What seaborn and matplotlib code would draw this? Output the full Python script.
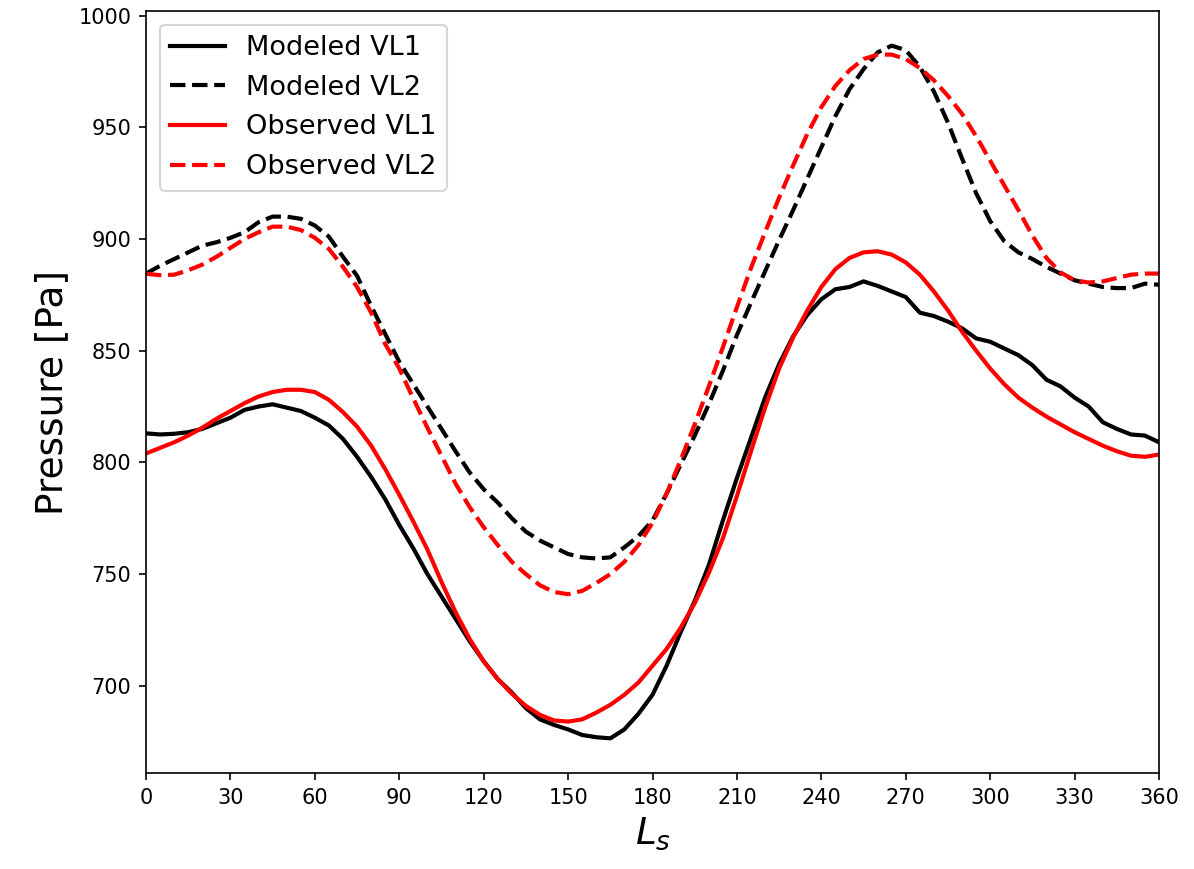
import numpy as np
import pandas as pd
import matplotlib
matplotlib.use("Agg")
import matplotlib.pyplot as plt
import seaborn as sns

# Solar longitude grid (deg)
ls = list(range(0, 361, 5))

# Modeled VL1 (black solid)
p_mod_vl1 = [813.0, 812.5, 812.8, 813.5, 815.0, 817.5, 820.0, 823.5, 825.0, 826.0,
             824.5, 823.0, 820.0, 816.5, 810.5, 802.5, 793.5, 783.5, 772.0, 761.5,
             750.0, 740.0, 730.0, 720.0, 711.0, 703.0, 697.0, 690.0, 685.0, 682.5,
             680.5, 678.0, 677.0, 676.5, 680.5, 687.5, 696.0, 709.0, 724.0, 738.0,
             754.0, 774.0, 793.0, 811.0, 829.0, 844.0, 856.5, 866.0, 873.0, 877.5,
             878.5, 881.0, 879.0, 876.5, 874.0, 867.0, 865.5, 863.0, 860.0, 855.5,
             854.0, 851.0, 848.0, 843.5, 837.0, 834.0, 829.0, 825.0, 818.0, 815.0,
             812.5, 812.0, 809.0]

# Modeled VL2 (black dashed)
p_mod_vl2 = [884.5, 888.0, 891.0, 894.0, 897.0, 898.5, 900.5, 903.0, 907.5, 910.0,
             910.0, 909.0, 906.0, 901.0, 892.0, 883.5, 870.0, 857.5, 845.0, 835.0,
             825.0, 815.0, 805.0, 795.5, 788.0, 782.0, 775.0, 769.0, 765.0, 762.0,
             759.0, 757.5, 757.0, 757.5, 762.0, 767.0, 774.0, 786.0, 799.0, 812.0,
             826.0, 841.0, 857.0, 871.5, 885.5, 899.5, 913.0, 927.0, 941.0, 955.0,
             967.0, 976.0, 983.5, 986.5, 984.5, 977.0, 966.0, 952.0, 936.0, 920.5,
             908.0, 899.0, 894.0, 891.0, 887.5, 884.5, 881.5, 880.0, 878.5, 878.0,
             878.0, 880.0, 879.5]

# Observed VL1 (red solid)
p_obs_vl1 = [804.0, 806.5, 809.0, 812.0, 815.5, 819.5, 823.0, 826.5, 829.5, 831.5,
             832.5, 832.5, 831.5, 828.0, 822.5, 816.0, 807.5, 797.0, 785.5, 773.5,
             761.0, 746.5, 733.0, 721.0, 711.0, 703.0, 696.5, 691.0, 687.0, 684.5,
             684.0, 685.0, 688.0, 691.5, 696.0, 701.5, 709.0, 716.5, 726.0, 737.0,
             750.5, 766.0, 785.0, 805.0, 824.5, 842.0, 856.0, 868.0, 878.5, 886.5,
             891.5, 894.0, 894.5, 893.0, 889.5, 884.0, 876.5, 868.0, 858.5, 850.0,
             842.0, 835.0, 829.0, 824.5, 820.5, 817.0, 813.5, 810.5, 807.5, 805.0,
             803.0, 802.5, 803.5]

# Observed VL2 (red dashed)
p_obs_vl2 = [884.4, 883.8, 884.0, 886.0, 888.5, 892.0, 896.0, 900.0, 903.0, 905.5,
             905.5, 904.0, 900.5, 895.5, 887.5, 878.5, 867.0, 853.0, 842.0, 828.5,
             815.5, 803.0, 790.5, 780.0, 771.0, 763.0, 755.5, 750.0, 745.0, 742.0,
             741.0, 742.5, 746.0, 750.0, 755.5, 763.0, 773.0, 786.0, 801.0, 817.0,
             834.0, 851.5, 869.5, 887.0, 903.0, 918.5, 933.0, 947.0, 959.0, 968.5,
             975.5, 980.5, 982.5, 982.5, 980.5, 976.5, 971.0, 964.0, 956.0, 946.0,
             935.0, 924.0, 913.0, 901.5, 891.5, 885.0, 881.5, 880.5, 881.0, 882.5,
             884.0, 884.5, 884.5]

series = [
    ("Modeled VL1", p_mod_vl1, "black", "-"),
    ("Modeled VL2", p_mod_vl2, "black", "--"),
    ("Observed VL1", p_obs_vl1, "red", "-"),
    ("Observed VL2", p_obs_vl2, "red", "--"),
]

fig = plt.figure(figsize=(1194 / 150, 869 / 150), dpi=150)
ax = fig.add_axes([0.1223, 0.1105, 0.8484, 0.8768])

for label, vals, color, ls_style in series:
    df = pd.DataFrame({"Ls": ls, "Pressure": vals})
    sns.lineplot(data=df, x="Ls", y="Pressure", color=color, linestyle=ls_style,
                 linewidth=2, label=label, ax=ax)

ax.set_xlim(0, 360)
ax.set_xticks(range(0, 361, 30))
ax.tick_params(labelsize=10)
ax.set_xlabel(r"$L_s$", fontsize=18)
ax.set_ylabel("Pressure [Pa]", fontsize=18)
ax.legend(loc="upper left", fontsize=13)

fig.savefig("out.png", dpi=150)
plt.close(fig)
